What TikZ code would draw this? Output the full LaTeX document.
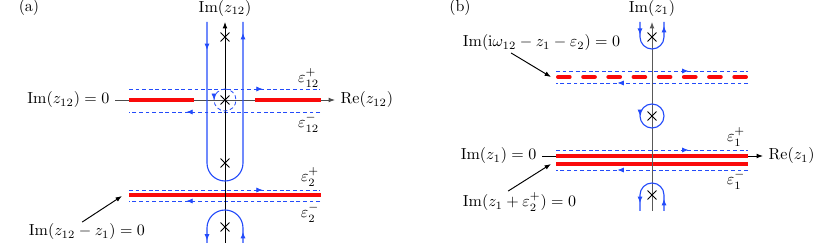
\documentclass[tikz,border=0pt]{standalone}
\usepackage{xcolor}
\usepackage{tikz}
\usetikzlibrary{arrows.meta, shapes.misc, decorations.markings}
\definecolor{contourblue}{RGB}{35, 75, 250}
\definecolor{cutred}{RGB}{250, 10, 10}

\begin{document}
\begin{tikzpicture}[
    x=0.625pt, y=0.625pt,
    axis/.style={draw=black, line width=0.6pt, -{Latex[length=4pt, width=3pt]}},
    note/.style={draw=black, line width=0.6pt, -{Latex[length=4pt, width=3pt]}},
    cut/.style={draw=cutred, line width=2.3pt},
    cutdash/.style={draw=cutred, line width=2.5pt, line cap=round, 
                    dash pattern=on 7.3pt off 8.44pt},
    eps/.style={draw=contourblue, line width=0.5pt, dash pattern=on 2.4pt off 1.7pt},
    epslabel/.style={anchor=east, inner sep=1pt},
    contour/.style={draw=contourblue, line width=0.7pt},
    tipat/.style={postaction={decorate}, decoration={markings, 
                  mark=at position #1 with {\arrow[contourblue]{Latex[length=4pt, width=3.2pt]}}}},
    twotips/.style 2 args={postaction={decorate}, decoration={markings, 
                  mark=at position #1 with {\arrow[contourblue]{Latex[length=4pt, width=3.2pt]}},
                  mark=at position #2 with {\arrow[contourblue]{Latex[length=4pt, width=3.2pt]}}}},
    pole/.style={cross out, draw=black, line width=0.6pt, minimum size=5pt, inner sep=0pt}
]
    \useasboundingbox (0,0) rectangle (831,245);

    % panel (a)
    \node (lbl-a) at (29,237) {(a)};
    \node[anchor=south] (a-imax) at (225,223) {$\mathrm{Im}(z_{12})$};
    \coordinate (a-bot) at (225,2);
    \node[anchor=east] (a-zero) at (115,145) {$\mathrm{Im}(z_{12})=0$};
    \node[anchor=west] (a-re) at (335,145) {$\mathrm{Re}(z_{12})$};
    \draw[axis, draw=black!70] (a-zero.east) -- (a-re.west);

    \draw[cut] (129,145) -- (194,145);
    \draw[cut] (255,145) -- (321,145);
    \draw[cut] (129,50) -- (321,50);
    \draw[eps, tipat=0.7] (129,156) -- (320,156);
    \draw[eps, tipat=0.7] (320,133) -- (129,133);
    \draw[eps, tipat=0.7] (129,55) -- (320,55);
    \draw[eps, tipat=0.7] (320,44) -- (129,44);

    \draw[axis] (a-bot) -- (a-imax.south);
    \draw[eps, tipat=0.25] (225,156) arc (90:450:11);
    \draw[contour, twotips={17.5pt}{-6.9pt}] (207,223) -- (207,82) arc (180:360:18) -- (243,223);
    \draw[contour, twotips={6.9pt}{-1.5pt}] (243,2) -- (243,17) arc (0:180:18) -- (207,2);

    \node[pole] (a-p1) at (225,208) {};
    \node[pole] (a-p2) at (225,145) {};
    \node[pole] (a-p3) at (225,82) {};
    \node[pole] (a-p4) at (225,18) {};

    \node[epslabel] (a-e12p) at (321,167) {$\varepsilon_{12}^{+}$};
    \node[epslabel] (a-e12m) at (321,122) {$\varepsilon_{12}^{-}$};
    \node[epslabel] (a-e2p) at (321,68) {$\varepsilon_{2}^{+}$};
    \node[epslabel] (a-e2m) at (321,32) {$\varepsilon_{2}^{-}$};

    \node[anchor=west, inner sep=1pt] (a-note) at (27,13) {$\mathrm{Im}(z_{12}-z_1)=0$};
    \coordinate (a-tip) at (122,49);
    \draw[note] (a-note.116) -- (a-tip);

    % panel (b)
    \node (lbl-b) at (460,237) {(b)};
    \node[anchor=south] (b-imax) at (652,223) {$\mathrm{Im}(z_1)$};
    \coordinate (b-bot) at (652,34);
    \node[anchor=east] (b-zero) at (542,89) {$\mathrm{Im}(z_1)=0$};
    \node[anchor=west] (b-re) at (763,89) {$\mathrm{Re}(z_1)$};
    \draw[axis] (b-zero.east) -- (b-re.west);

    \draw[cut] (556,89) -- (748,89);
    \draw[cut] (556,81) -- (748,81);
    \draw[cutdash] (558,168) -- (746,168);
    \draw[eps, tipat=0.69] (556,95) -- (748,95);
    \draw[eps, tipat=0.68] (748,75) -- (556,75);
    \draw[eps, tipat=0.69] (556,174) -- (748,174);
    \draw[eps, tipat=0.68] (748,162) -- (556,162);

    \draw[axis, draw=black!65] (b-bot) -- (b-imax.south);
    \draw[contour, tipat=0.25] (652,141) arc (90:450:12);
    \draw[contour, twotips={8pt}{-2.5pt}] (640,223) -- (640,208) arc (180:360:12) -- (664,223);
    \draw[contour, twotips={7.5pt}{-5pt}] (664,34) -- (664,50) arc (0:180:12) -- (640,34);

    \node[pole] (b-p1) at (652,208) {};
    \node[pole] (b-p2) at (652,129) {};
    \node[pole] (b-p3) at (652,50) {};

    \node[epslabel] (b-e1p) at (747,108) {$\varepsilon_{1}^{+}$};
    \node[epslabel] (b-e1m) at (747,65) {$\varepsilon_{1}^{-}$};

    \node[anchor=west, inner sep=1pt] (b-note1) at (461,202) {$\mathrm{Im}(\mathrm{i}\omega_{12}-z_1-\varepsilon_2)=0$};
    \coordinate (b-tip1) at (551,168);
    \draw[note] (b-note1.-162) -- (b-tip1);
    \node[anchor=west, inner sep=1pt] (b-note2) at (461,43) {$\mathrm{Im}(z_1+\varepsilon_2^{+})=0$};
    \coordinate (b-tip2) at (551,81);
    \draw[note] (b-note2.136) -- (b-tip2);
\end{tikzpicture}
\end{document}
